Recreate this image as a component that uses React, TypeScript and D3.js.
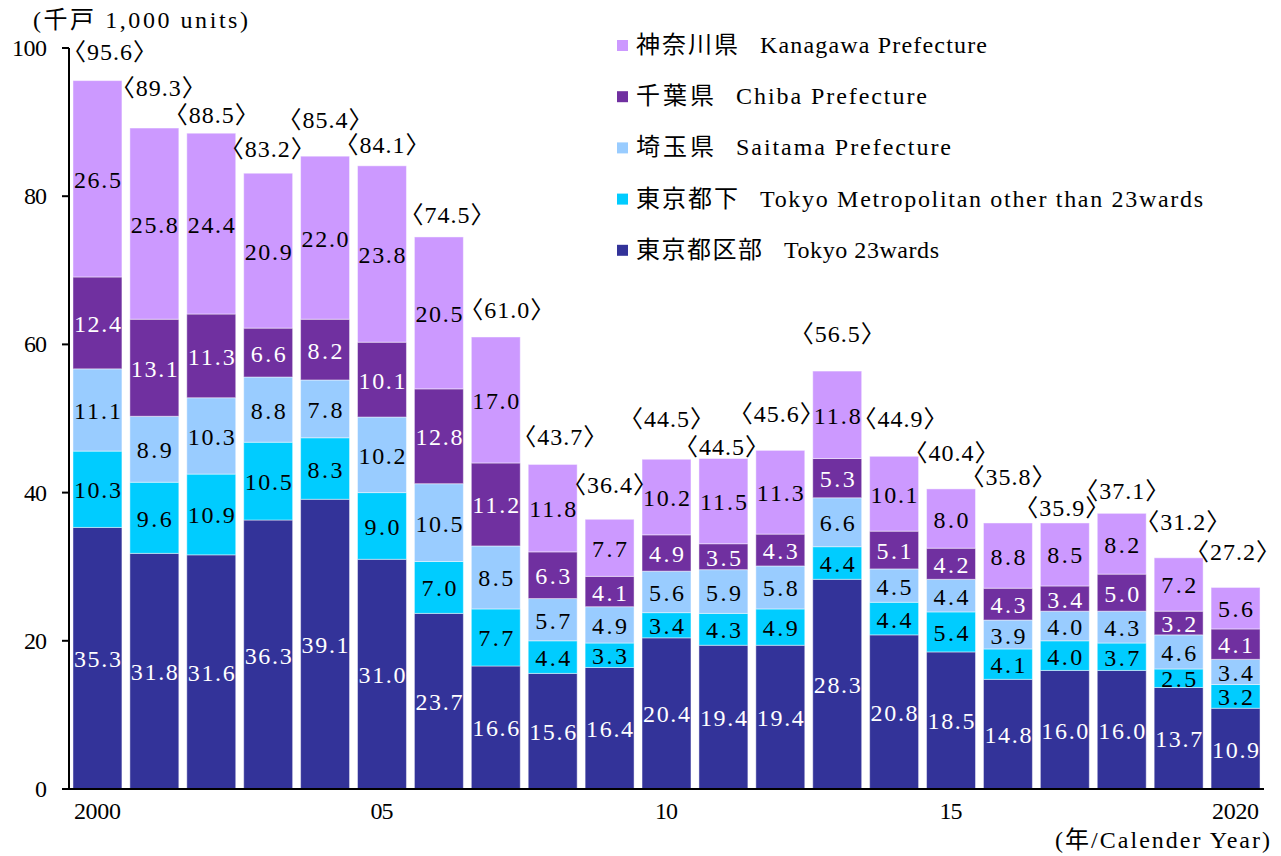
import React from "react";
import * as d3 from "d3";

const years = [2000, 2001, 2002, 2003, 2004, 2005, 2006, 2007, 2008, 2009, 2010, 2011, 2012, 2013, 2014, 2015, 2016, 2017, 2018, 2019, 2020];

const tokyo23 = [35.3, 31.8, 31.6, 36.3, 39.1, 31.0, 23.7, 16.6, 15.6, 16.4, 20.4, 19.4, 19.4, 28.3, 20.8, 18.5, 14.8, 16.0, 16.0, 13.7, 10.9];
const tokyoOther = [10.3, 9.6, 10.9, 10.5, 8.3, 9.0, 7.0, 7.7, 4.4, 3.3, 3.4, 4.3, 4.9, 4.4, 4.4, 5.4, 4.1, 4.0, 3.7, 2.5, 3.2];
const saitama = [11.1, 8.9, 10.3, 8.8, 7.8, 10.2, 10.5, 8.5, 5.7, 4.9, 5.6, 5.9, 5.8, 6.6, 4.5, 4.4, 3.9, 4.0, 4.3, 4.6, 3.4];
const chiba = [12.4, 13.1, 11.3, 6.6, 8.2, 10.1, 12.8, 11.2, 6.3, 4.1, 4.9, 3.5, 4.3, 5.3, 5.1, 4.2, 4.3, 3.4, 5.0, 3.2, 4.1];
const kanagawa = [26.5, 25.8, 24.4, 20.9, 22.0, 23.8, 20.5, 17.0, 11.8, 7.7, 10.2, 11.5, 11.3, 11.8, 10.1, 8.0, 8.8, 8.5, 8.2, 7.2, 5.6];
const totals = [95.6, 89.3, 88.5, 83.2, 85.4, 84.1, 74.5, 61.0, 43.7, 36.4, 44.5, 44.5, 45.6, 56.5, 44.9, 40.4, 35.8, 35.9, 37.1, 31.2, 27.2];

const yTicks = [0, 20, 40, 60, 80, 100];
const xTickYears = [2000, 2005, 2010, 2015, 2020];
const xTickLabels = ["2000", "05", "10", "15", "2020"];

const seriesKeys = ["tokyo23", "tokyoOther", "saitama", "chiba", "kanagawa"];
const seriesValues = [tokyo23, tokyoOther, saitama, chiba, kanagawa];
const seriesColors = ["#333399", "#00CCFF", "#99CCFF", "#7030A0", "#CC99FF"];
const seriesTextColors = ["#ffffff", "#000000", "#000000", "#ffffff", "#000000"];
// legend order (top to bottom)
const legendJa = ["神奈川県", "千葉県", "埼玉県", "東京都下", "東京都区部"];
const legendEn = ["Kanagawa Prefecture", "Chiba Prefecture", "Saitama Prefecture", "Tokyo Metropolitan other than 23wards", "Tokyo 23wards"];
const legendSeriesIdx = [4, 3, 2, 1, 0];

// layout nudges for the total labels (pixels, relative to the bar top / centre)
const totalLabelDx = [12, 4, 0, -1, 0, 0, 8, 11, 7, 0, 0, -2, -4, 0, 6, 0, 0, -3, 0, 4, -3];
const totalLabelDy = [-29, -40, -18, -24, -36, -21, -22, -27, -27, -34, -40, -12, -36, -37, -37, -36, -46, -15, -22, -36, -35];

const FONT = "'Liberation Serif', 'Noto Sans CJK JP', serif";
const FS = 24;

// width of a string set in a half-width/full-width (Mincho-like) grid
function monoWidth(s: string, fs: number) {
  let w = 0;
  for (const ch of s) w += ch.charCodeAt(0) > 0x2000 ? fs : fs / 2;
  return w;
}

function T(props: any) {
  const { children, fs = FS, ...rest } = props;
  const str = String(children);
  return (
    <text fontSize={fs} textLength={monoWidth(str, fs) - 1} lengthAdjust="spacing" {...rest}>
      {str}
    </text>
  );
}

export default function App() {
  const W = 1281;
  const H = 856;
  const x = d3.scaleBand<number>().domain(years).range([69, 1264]).paddingInner(0.14).paddingOuter(0.07);
  const y = d3.scaleLinear().domain([0, 100]).range([789, 48]);

  const table = years.map((yr, i) => {
    const row: any = { year: yr };
    seriesKeys.forEach((k, s) => (row[k] = seriesValues[s][i]));
    return row;
  });
  const stacked = d3.stack<any>().keys(seriesKeys)(table);

  return (
    <svg width={W} height={H} style={{ position: "absolute", left: 0, top: 0, display: "block", background: "#fff" }} fontFamily={FONT}>
      {/* bars */}
      {stacked.map((layer, s) => (
        <g key={seriesKeys[s]}>
          {layer.map((d, i) => {
            const x0 = x(years[i])!;
            const y0 = y(d[1]);
            const h = y(d[0]) - y(d[1]);
            return (
              <rect key={i} x={x0} y={y0} width={x.bandwidth()} height={h} fill={seriesColors[s]} stroke="rgba(255,255,255,0.45)" strokeWidth={1} />
            );
          })}
        </g>
      ))}
      {/* segment labels */}
      {stacked.map((layer, s) => (
        <g key={"l" + seriesKeys[s]}>
          {layer.map((d, i) => (
            <T key={i} x={x(years[i])! + x.bandwidth() / 2} y={(y(d[0]) + y(d[1])) / 2 + 1} textAnchor="middle" dominantBaseline="central" fill={seriesTextColors[s]}>
              {seriesValues[s][i].toFixed(1)}
            </T>
          ))}
        </g>
      ))}
      {/* total labels */}
      {totals.map((t, i) => (
        <T
          key={"t" + i}
          x={x(years[i])! + x.bandwidth() / 2 + totalLabelDx[i]}
          y={y(d3.sum(seriesValues, (v) => v[i])) + totalLabelDy[i]}
          textAnchor="middle"
          dominantBaseline="central"
          fill="#000"
        >
          {"〈" + t.toFixed(1) + "〉"}
        </T>
      ))}
      {/* y axis */}
      <line x1={69} x2={69} y1={y(100)} y2={y(0)} stroke="#000" strokeWidth={2} />
      {yTicks.map((t) => (
        <g key={"yt" + t}>
          <line x1={62} x2={69} y1={y(t)} y2={y(t)} stroke="#000" strokeWidth={2} />
          <T x={47} y={y(t)} textAnchor="end" dominantBaseline="central" fill="#000">
            {t}
          </T>
        </g>
      ))}
      {/* x axis */}
      <line x1={62} x2={1264} y1={y(0)} y2={y(0)} stroke="#000" strokeWidth={2} />
      {xTickYears.map((yr, i) => (
        <T key={"xt" + yr} x={x(yr)! + x.bandwidth() / 2} y={811} textAnchor="middle" dominantBaseline="central" fill="#000">
          {xTickLabels[i]}
        </T>
      ))}
      <T x={1270} y={840} textAnchor="end" dominantBaseline="central" fill="#000">
        (年/Calender Year)
      </T>
      <T x={33} y={20} dominantBaseline="central" fill="#000">
        (千戸 1,000 units)
      </T>
      {/* legend */}
      {legendJa.map((ja, r) => {
        const cy = 45 + r * 51.2;
        const s = legendSeriesIdx[r];
        return (
          <g key={"lg" + r}>
            <rect x={617} y={cy - 5} width={11} height={11} fill={seriesColors[s]} />
            <text x={636} y={cy} dominantBaseline="central" fontSize={FS} fill="#000" textLength={monoWidth(ja, FS) + 6} lengthAdjust="spacing">
              {ja}
            </text>
            <T x={636 + monoWidth(ja, FS) + 28} y={cy} dominantBaseline="central" fill="#000">
              {legendEn[r]}
            </T>
          </g>
        );
      })}
    </svg>
  );
}
